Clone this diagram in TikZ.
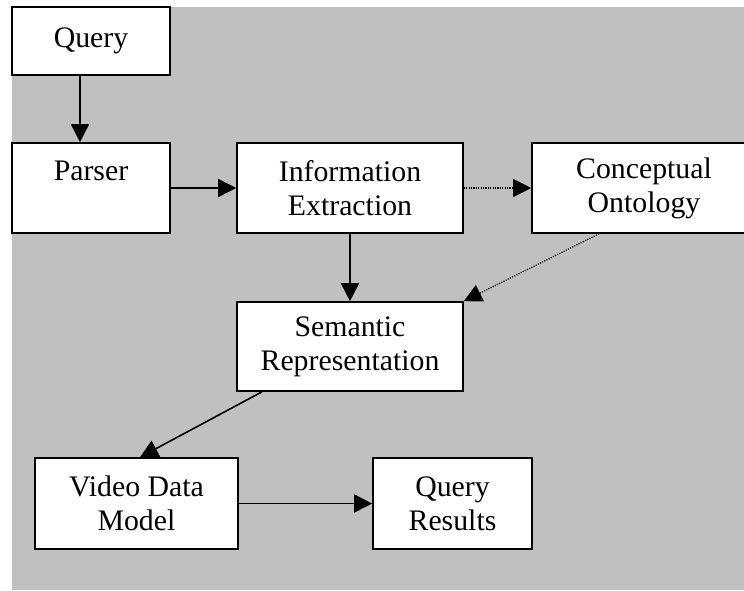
\documentclass[tikz,border=0pt]{standalone}
\usepackage{fontspec}
\setmainfont{Liberation Serif}
\usetikzlibrary{arrows.meta}
\definecolor{bggray}{RGB}{192,192,192}
\begin{document}
\begin{tikzpicture}[x=1pt,y=-1pt,
  box/.style={draw=black,line width=1.6pt,fill=white,align=center,inner sep=0pt,
    font=\fontsize{29.8}{34}\selectfont},
  solidarrow/.style={line width=1.6pt,-{Triangle[length=18pt,width=18pt]}},
  dotarrow/.style={line width=1.2pt,dash pattern=on 1.2pt off 1.2pt,-{Triangle[length=18pt,width=18pt]}}]
\useasboundingbox (0,0) rectangle (744,590);
\fill[white] (0,0) rectangle (744,590);
\fill[bggray] (12,7) rectangle (744,590);

\node[box,minimum width=158pt,minimum height=68pt] (q) at (91,41) {Query};
\node[box,minimum width=158pt,minimum height=90pt] (p) at (91,188) {Parser\\\phantom{Ex}};
\node[box,minimum width=226pt,minimum height=90pt] (ie) at (350,188) {Information\\Extraction};
\node[box,minimum width=224pt,minimum height=90pt] (co) at (644,188) {Conceptual\\Ontology};
\node[box,minimum width=226pt,minimum height=89pt] (sr) at (350,346.5) {Semantic\\Representation};
\node[box,minimum width=203pt,minimum height=91pt] (vdm) at (136.5,503.5) {Video Data\\Model};
\node[box,minimum width=159pt,minimum height=91pt] (qr) at (452.5,503.5) {Query\\Results};

\draw[solidarrow] ([xshift=-11pt]q.south) -- ([xshift=-11pt]p.north);
\draw[solidarrow] (p.east) -- (ie.west);
\draw[dotarrow] (ie.east) -- (co.west);
\draw[solidarrow] (ie.south) -- (sr.north);
\draw[dotarrow] ([xshift=-45pt]co.south) -- (sr.north east);
\draw[solidarrow] ([xshift=-88pt]sr.south) -- ([xshift=3.5pt]vdm.north);
\draw[solidarrow] (vdm.east) -- (qr.west);
\end{tikzpicture}
\end{document}
